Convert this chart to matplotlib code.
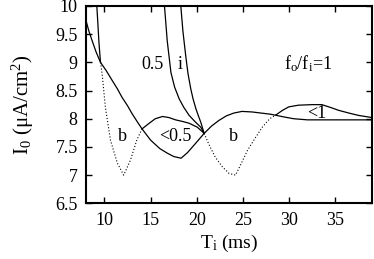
import matplotlib
matplotlib.use("Agg")
import matplotlib.pyplot as plt

plt.rcParams['font.family'] = ['Liberation Serif', 'DejaVu Serif']
plt.rcParams['mathtext.fontset'] = 'custom'
plt.rcParams['mathtext.rm'] = 'Liberation Serif'
plt.rcParams['mathtext.it'] = 'Liberation Serif'

# Main solid curve (descending from left, through both crossings)
main_x = [8.0, 8.3, 8.67, 9.1, 9.57, 10.2, 10.83, 11.4, 11.9, 12.5, 12.99, 13.5, 14.07,
          15.0, 16.0, 16.8, 17.5, 18.3, 19.0, 19.8, 20.8, 21.6, 22.4, 23.2, 24.0,
          24.9, 26.0, 27.0, 28.0, 28.6, 29.5, 30.5, 32.0, 34.0, 36.0, 39.0]
main_y = [9.74, 9.56, 9.38, 9.18, 9.0, 8.85, 8.68, 8.53, 8.38, 8.23, 8.09, 7.96, 7.82,
          7.62, 7.47, 7.39, 7.33, 7.30, 7.40, 7.55, 7.74, 7.87, 7.97, 8.05, 8.10,
          8.13, 8.12, 8.10, 8.08, 8.06, 8.03, 8.00, 7.98, 7.98, 7.98, 7.98]

# Steep curve at the left edge
steep_x = [9.17, 9.28, 9.39, 9.48, 9.57]
steep_y = [10.0, 9.7, 9.38, 9.18, 9.0]

# Dotted boundary, first dip
dip1_x = [9.57, 9.75, 10.1, 10.65, 11.4, 12.08, 12.8, 13.5, 14.07]
dip1_y = [9.0, 8.79, 8.2, 7.62, 7.21, 7.0, 7.26, 7.62, 7.82]

# Solid hump between the crossings
hump1_x = [14.07, 14.85, 15.5, 16.3, 17.0, 17.7, 18.5, 19.17, 20.06, 20.8]
hump1_y = [7.82, 7.92, 8.0, 8.04, 8.02, 7.98, 7.95, 7.92, 7.85, 7.74]

# Dotted boundary, second dip
dip2_x = [20.8, 21.3, 22.0, 22.76, 23.5, 24.2, 24.8, 25.5, 26.3, 27.1, 27.9, 28.6]
dip2_y = [7.74, 7.55, 7.32, 7.15, 7.03, 7.0, 7.2, 7.44, 7.65, 7.85, 8.0, 8.07]

# Solid hump at the right
hump2_x = [28.6, 29.3, 29.96, 31.0, 32.5, 33.55, 34.5, 35.35, 36.5, 37.5, 39.0]
hump2_y = [8.07, 8.15, 8.21, 8.24, 8.25, 8.25, 8.2, 8.15, 8.1, 8.06, 8.02]

# Steep curve labelled 0.5
c05_x = [16.5, 16.8, 17.2, 17.6, 18.1, 18.6, 19.17, 19.8, 20.43, 20.8]
c05_y = [10.0, 9.38, 8.82, 8.56, 8.35, 8.2, 8.06, 7.95, 7.85, 7.74]

# Steep curve labelled i
ci_x = [18.27, 18.5, 18.8, 19.05, 19.35, 19.6, 19.9, 20.2, 20.43, 20.8]
ci_y = [10.0, 9.55, 9.12, 8.8, 8.53, 8.35, 8.18, 8.04, 7.94, 7.74]

x_ticks = [10, 15, 20, 25, 30, 35]
y_ticks = [6.5, 7, 7.5, 8, 8.5, 9, 9.5, 10]
y_ticklabels = ['6.5', '7', '7.5', '8', '8.5', '9', '9.5', '10']

fig = plt.figure(figsize=(3.74, 2.59), dpi=100)
ax = fig.add_axes([0.23, 0.215, 0.765, 0.762])

lw = 0.9
ax.plot(main_x, main_y, color='black', lw=lw)
ax.plot(steep_x, steep_y, color='black', lw=lw)
ax.plot(hump1_x, hump1_y, color='black', lw=lw)
ax.plot(hump2_x, hump2_y, color='black', lw=lw)
ax.plot(c05_x, c05_y, color='black', lw=lw)
ax.plot(ci_x, ci_y, color='black', lw=lw)
ax.plot(dip1_x, dip1_y, color='black', lw=0.8, ls=(0, (1, 1.8)))
ax.plot(dip2_x, dip2_y, color='black', lw=0.8, ls=(0, (1, 1.8)))

fs = 13
ax.text(11.97, 7.68, 'b', fontsize=fs, ha='center', va='center')
ax.text(24.0, 7.68, 'b', fontsize=fs, ha='center', va='center')
ax.text(15.2, 8.97, '0.5', fontsize=fs, ha='center', va='center')
ax.text(18.17, 8.97, 'i', fontsize=fs, ha='center', va='center')
ax.text(17.7, 7.68, '<0.5', fontsize=fs, ha='center', va='center')
ax.text(32.1, 8.97, r'f$_\mathrm{o}$/f$_\mathrm{i}$=1', fontsize=fs, ha='center', va='center')
ax.text(33.0, 8.09, '<1', fontsize=fs, ha='center', va='center')

ax.set_xlim(8, 39)
ax.set_ylim(6.5, 10)
ax.set_xticks(x_ticks)
ax.set_yticks(y_ticks)
ax.set_yticklabels(y_ticklabels)
ax.tick_params(direction='in', length=4, width=1.0, top=True, right=True,
               labelsize=fs, pad=6)
for s in ax.spines.values():
    s.set_linewidth(1.5)

ax.set_xlabel(r'T$_\mathrm{i}$ (ms)', fontsize=14, labelpad=3)
ax.set_ylabel(r'I$_\mathrm{0}$ (μA/cm$^\mathrm{2}$)', fontsize=15, labelpad=14)

fig.savefig('out.png', dpi=100)
